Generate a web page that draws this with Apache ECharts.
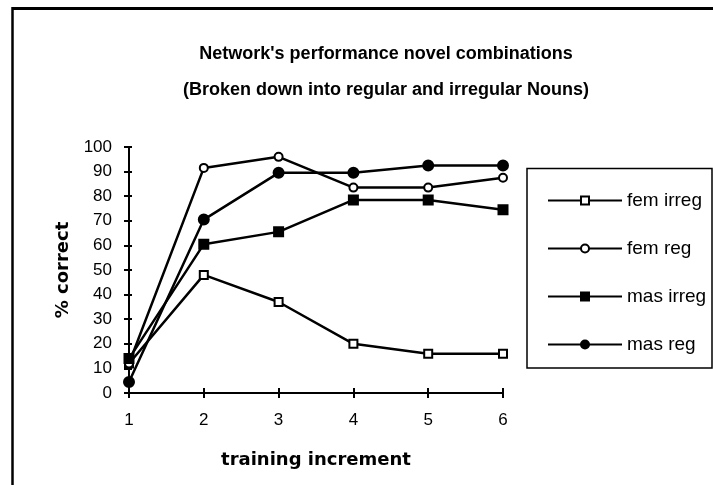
<!DOCTYPE html>
<html><head><meta charset="utf-8">
<script src="https://cdn.jsdelivr.net/npm/echarts@6/dist/echarts.min.js"></script>
<style>html,body{margin:0;padding:0;background:#fff}#c{width:713px;height:485px}</style>
</head><body><div id="c"></div>
<script>
const categories = ['1', '2', '3', '4', '5', '6'];
const femIrreg = [12, 48, 37, 20, 16, 16];
const femReg = [12, 91.5, 96, 83.5, 83.5, 87.5];
const masIrreg = [14, 60.5, 65.5, 78.5, 78.5, 74.5];
const masReg = [4.5, 70.5, 89.5, 89.5, 92.5, 92.5];
const yTicks = [0, 10, 20, 30, 40, 50, 60, 70, 80, 90, 100];

const F = '"Liberation Sans", Arial, sans-serif';
const FW = '"DejaVu Sans", sans-serif';
const chart = echarts.init(document.getElementById('c'), null, {renderer: 'canvas'});
function mk(name, data, symbol, filled, size) {
  return {
    name, type: 'line', data, symbol, symbolSize: size,
    showSymbol: true,
    lineStyle: {color: '#000', width: 2.5},
    itemStyle: {color: filled ? '#000' : '#fff', borderColor: '#000', borderWidth: 2},
    emphasis: {disabled: true}, animation: false, z: 3
  };
}
chart.setOption({
  animation: false,
  backgroundColor: '#fff',
  textStyle: {fontFamily: F, color: '#000'},
  title: {
    text: "Network's performance novel combinations\n(Broken down into regular and irregular Nouns)",
    left: 381, top: 31, textAlign: 'center',
    textStyle: {fontFamily: F, fontWeight: 'bold', fontSize: 18, lineHeight: 36, color: '#000'}
  },
  legend: {
    orient: 'vertical', left: 542, top: 186,
    itemWidth: 74, itemHeight: 10, itemGap: 29,
    textStyle: {fontFamily: F, fontSize: 19, color: '#000'},
    data: ['fem irreg', 'fem reg', 'mas irreg', 'mas reg']
  },
  grid: {left: 129, right: 210, top: 147, bottom: 92, containLabel: false},
  xAxis: [{
    type: 'category', data: categories, boundaryGap: false,
    axisLine: {lineStyle: {color: '#000', width: 2}},
    axisTick: {show: true, length: 5, lineStyle: {color: '#000', width: 2}},
    axisLabel: {fontFamily: F, fontSize: 17, color: '#000', margin: 19},
    name: 'training increment', nameLocation: 'middle', nameGap: 58,
    nameTextStyle: {fontFamily: FW, fontWeight: 'bold', fontSize: 18, color: '#000'}
  }, {
    type: 'category', data: categories, boundaryGap: false, position: 'bottom',
    axisLine: {show: false},
    axisTick: {show: true, inside: true, length: 5, lineStyle: {color: '#000', width: 2}},
    axisLabel: {show: false}
  }],
  yAxis: [{
    type: 'value', min: 0, max: 100, interval: 10,
    axisLine: {show: true, lineStyle: {color: '#000', width: 2}},
    axisTick: {show: true, length: 5, lineStyle: {color: '#000', width: 2}},
    splitLine: {show: false},
    axisLabel: {fontFamily: F, fontSize: 17, color: '#000', margin: 17,
      formatter: v => yTicks.includes(v) ? String(v) : ''},
    name: '% correct', nameLocation: 'middle', nameGap: 57, nameRotate: 90,
    nameTextStyle: {fontFamily: FW, fontWeight: 'bold', fontSize: 18, color: '#000'}
  }, {
    type: 'value', min: 0, max: 100, interval: 10, position: 'left',
    axisLine: {show: false},
    axisTick: {show: true, inside: true, length: 3, lineStyle: {color: '#000', width: 2}},
    splitLine: {show: false}, axisLabel: {show: false}
  }],
  graphic: [
    {type: 'line', shape: {x1: 12.5, y1: 8.5, x2: 713, y2: 8.5}, style: {stroke: '#000', lineWidth: 3}},
    {type: 'line', shape: {x1: 12.5, y1: 7, x2: 12.5, y2: 485}, style: {stroke: '#000', lineWidth: 2.5}},
    {type: 'rect', shape: {x: 527, y: 168.5, width: 185, height: 199.5}, style: {fill: 'none', stroke: '#000', lineWidth: 1.5}}
  ],
  series: [
    mk('fem irreg', femIrreg, 'rect', false, 8),
    mk('fem reg', femReg, 'circle', false, 8),
    mk('mas irreg', masIrreg, 'rect', true, 9),
    mk('mas reg', masReg, 'circle', true, 10)
  ]
});
</script></body></html>
